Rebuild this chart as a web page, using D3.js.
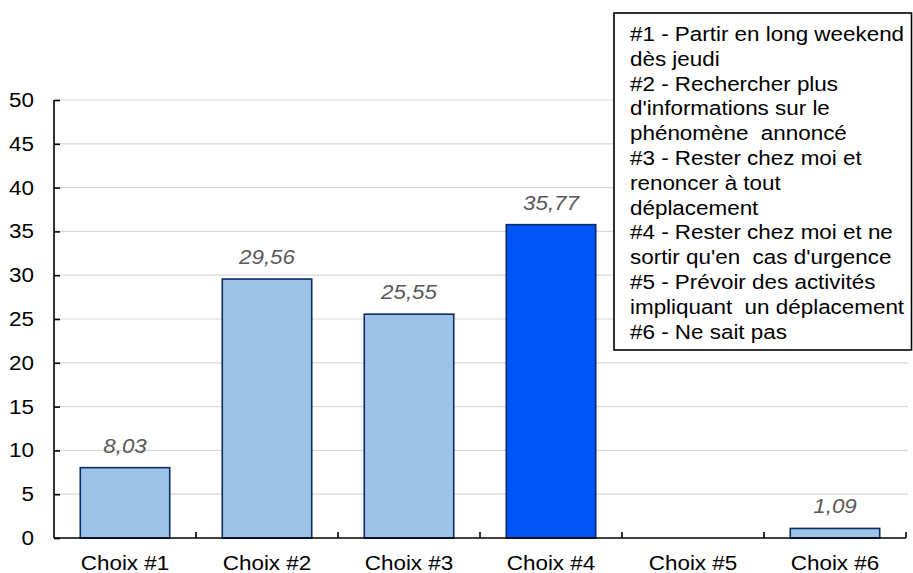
<!DOCTYPE html>
<html>
<head>
<meta charset="utf-8">
<script src="https://cdn.jsdelivr.net/npm/d3@7"></script>
<style>
  html, body { margin: 0; padding: 0; background: #fff; }
  svg { display: block; font-family: "Liberation Sans", Arial, sans-serif; }
</style>
</head>
<body>
<svg id="chart" width="913" height="573"></svg>
<script>
const categories = ["Choix #1", "Choix #2", "Choix #3", "Choix #4", "Choix #5", "Choix #6"];
const values = [8.03, 29.56, 25.55, 35.77, null, 1.09];
const valueLabels = ["8,03", "29,56", "25,55", "35,77", "", "1,09"];
const highlighted = ["Choix #4"];
const yTicks = [0, 5, 10, 15, 20, 25, 30, 35, 40, 45, 50];
const legendLines = [
  "#1 - Partir en long weekend",
  "dès jeudi",
  "#2 - Rechercher plus",
  "d'informations sur le",
  "phénomène  annoncé",
  "#3 - Rester chez moi et",
  "renoncer à tout",
  "déplacement",
  "#4 - Rester chez moi et ne",
  "sortir qu'en  cas d'urgence",
  "#5 - Prévoir des activités",
  "impliquant  un déplacement",
  "#6 - Ne sait pas"
];

const FONT = 19.5;   // text size
const SX = 1.15;     // horizontal widening of the glyphs

const svg = d3.select("#chart");
const plot = { left: 54, right: 906, top: 100, bottom: 538 };

const x = d3.scaleBand().domain(categories).range([plot.left, plot.right]).paddingInner(0.37).paddingOuter(0.185);
const xTickScale = d3.scaleBand().domain(categories).range([plot.left, plot.right]);
const y = d3.scaleLinear().domain([0, 50]).range([plot.bottom, plot.top]);

// places a text at (px, py) with widened glyphs
function placeText(sel, px, py) {
  sel.attr("transform", (d, i) => `translate(${px(d, i)},${py(d, i)}) scale(${SX},1)`)
    .attr("x", 0).attr("y", 0)
    .attr("font-size", FONT);
}

// horizontal gridlines
svg.append("g")
  .selectAll("line")
  .data(yTicks.filter(d => d > 0))
  .join("line")
  .attr("x1", plot.left).attr("x2", 908)
  .attr("y1", d => y(d)).attr("y2", d => y(d))
  .attr("stroke", "#d9d9d9").attr("stroke-width", 1.2);

// bars
const data = categories.map((c, i) => ({ c, v: values[i], label: valueLabels[i] }));
svg.append("g")
  .selectAll("rect")
  .data(data.filter(d => d.v != null))
  .join("rect")
  .attr("x", d => x(d.c))
  .attr("width", x.bandwidth())
  .attr("y", d => y(d.v))
  .attr("height", d => y(0) - y(d.v))
  .attr("fill", d => highlighted.includes(d.c) ? "#0055f5" : "#9dc3e6")
  .attr("stroke", "#0b2a66").attr("stroke-width", 1.6);

// value labels
svg.append("g")
  .selectAll("text")
  .data(data.filter(d => d.v != null))
  .join("text")
  .call(placeText, d => x(d.c) + x.bandwidth() / 2, d => y(d.v) - 15)
  .attr("text-anchor", "middle")
  .attr("font-style", "italic")
  .attr("fill", "#595959")
  .text(d => d.label);

// y axis
const yAxis = d3.axisLeft(y).tickValues(yTicks).tickSize(-6).tickFormat("");
const gy = svg.append("g").attr("transform", `translate(${plot.left},0)`).call(yAxis);
gy.select(".domain").attr("stroke", "#000").attr("stroke-width", 1.6).attr("d", `M0,${plot.top}V${plot.bottom}`);
gy.selectAll(".tick line").attr("stroke", "#000").attr("stroke-width", 1.6);
svg.append("g")
  .selectAll("text")
  .data(yTicks)
  .join("text")
  .call(placeText, () => 34, d => y(d) + 7)
  .attr("text-anchor", "end")
  .attr("fill", "#000")
  .text(d => d);

// x axis with ticks between categories
const gx = svg.append("g").attr("transform", `translate(0,${plot.bottom})`);
gx.append("line").attr("x1", plot.left).attr("x2", plot.right)
  .attr("stroke", "#000").attr("stroke-width", 1.6);
gx.selectAll("line.tick")
  .data(categories)
  .join("line").attr("class", "tick")
  .attr("x1", d => xTickScale(d) + xTickScale.bandwidth()).attr("x2", d => xTickScale(d) + xTickScale.bandwidth())
  .attr("y1", 0).attr("y2", -6)
  .attr("stroke", "#000").attr("stroke-width", 1.6);
gx.selectAll("text")
  .data(categories)
  .join("text")
  .call(placeText, d => xTickScale(d) + xTickScale.bandwidth() / 2, () => 32)
  .attr("text-anchor", "middle")
  .attr("fill", "#000")
  .text(d => d);

// legend box
const legend = svg.append("g");
legend.append("rect")
  .attr("x", 614).attr("y", 13).attr("width", 297.5).attr("height", 337)
  .attr("fill", "#fff").attr("stroke", "#000").attr("stroke-width", 1.6);
legend.selectAll("text")
  .data(legendLines)
  .join("text")
  .call(placeText, () => 630, (d, i) => 41 + i * 24.8)
  .attr("fill", "#000")
  .attr("xml:space", "preserve")
  .style("white-space", "pre")
  .text(d => d);
</script>
</body>
</html>
